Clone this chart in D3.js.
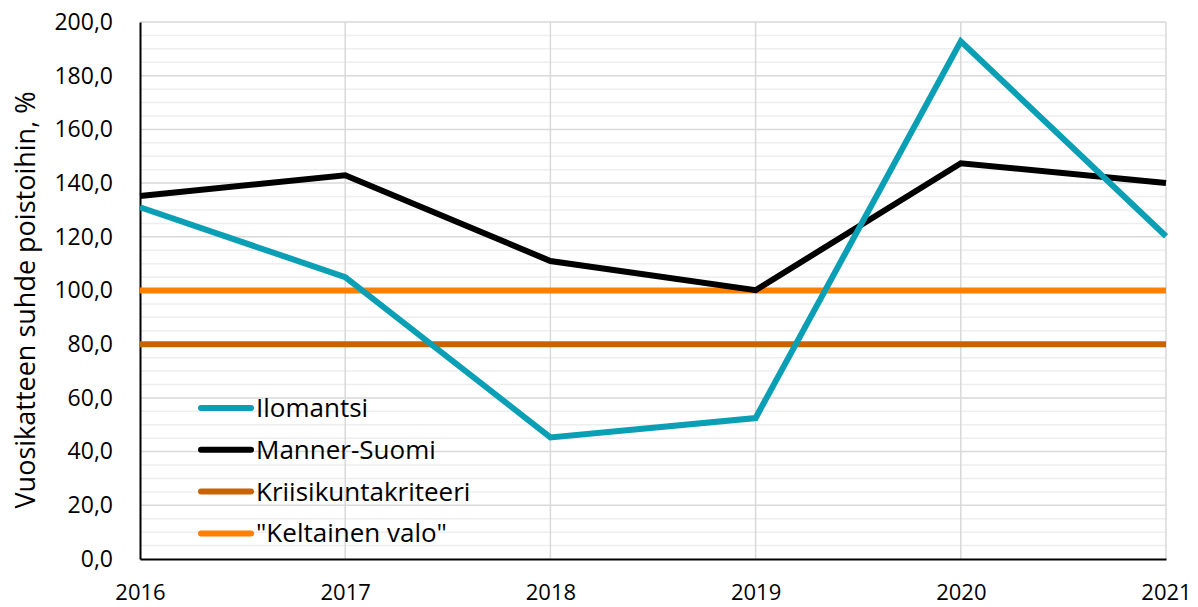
<!DOCTYPE html>
<html><head><meta charset="utf-8">
<script src="https://cdn.jsdelivr.net/npm/d3@7"></script>
<style>body{margin:0;background:#fff;}svg{display:block;font-family:"Open Sans",sans-serif;}</style>
</head><body><svg id="c" width="1198" height="607"></svg>
<script>
const years = [2016, 2017, 2018, 2019, 2020, 2021];
const ilomantsi = [131.0, 105.0, 45.3, 52.5, 192.8, 120.2];
const mannerSuomi = [135.2, 142.9, 111.0, 100.1, 147.4, 140.0];
const kriisikunta = [80, 80, 80, 80, 80, 80];
const keltainen = [100, 100, 100, 100, 100, 100];
const yTicks = [0, 20, 40, 60, 80, 100, 120, 140, 160, 180, 200];
const seriesNames = ["Ilomantsi", "Manner-Suomi", "Kriisikuntakriteeri", "\"Keltainen valo\""];
const seriesColors = ["#0A9FB5", "#000000", "#C86400", "#FF8000"];

const svg = d3.select("#c");
const L = 140, R = 1166, T = 22, B = 559;
const x = d3.scaleLinear().domain([2016, 2021]).range([L, R]);
const y = d3.scaleLinear().domain([0, 200]).range([B, T]);

// minor gridlines
const minor = d3.range(5, 200, 5).filter(v => v % 20 !== 0);
svg.append("g").selectAll("line").data(minor).join("line")
  .attr("x1", L).attr("x2", R).attr("y1", d => y(d)).attr("y2", d => y(d))
  .attr("stroke", "#eeeeee").attr("stroke-width", 1.5);
// major gridlines
svg.append("g").selectAll("line").data(yTicks.filter(v => v > 0)).join("line")
  .attr("x1", L).attr("x2", R).attr("y1", d => y(d)).attr("y2", d => y(d))
  .attr("stroke", "#d9d9d9").attr("stroke-width", 1.5);
// vertical gridlines
svg.append("g").selectAll("line").data(years.slice(1)).join("line")
  .attr("x1", d => x(d)).attr("x2", d => x(d)).attr("y1", T).attr("y2", B)
  .attr("stroke", "#d9d9d9").attr("stroke-width", 1.5);

// axes
const yAxis = d3.axisLeft(y).tickValues(yTicks).tickSize(0).tickPadding(27)
  .tickFormat(d => d3.format(".1f")(d).replace(".", ","));
const gy = svg.append("g").attr("transform", `translate(${L},0)`).call(yAxis);
gy.select(".domain").attr("stroke", "#000").attr("stroke-width", 2);
gy.selectAll("text").attr("font-size", 23).attr("fill", "#000").attr("font-family", "Open Sans");

const xAxis = d3.axisBottom(x).tickValues(years).tickSize(0).tickPadding(25).tickFormat(d3.format("d"));
const gx = svg.append("g").attr("transform", `translate(0,${B})`).call(xAxis);
gx.select(".domain").attr("stroke", "#000").attr("stroke-width", 2);
gx.selectAll("text").attr("font-size", 22).attr("fill", "#000").attr("font-family", "Open Sans");

// y title
svg.append("text").attr("transform", `translate(35,300) rotate(-90)`)
  .attr("text-anchor", "middle").attr("font-size", 27).attr("fill", "#000")
  .text("Vuosikatteen suhde poistoihin, %");

// lines
const line = d3.line().x((d, i) => x(years[i])).y(d => y(d));
const allSeries = [kriisikunta, keltainen, mannerSuomi, ilomantsi];
const allColors = [seriesColors[2], seriesColors[3], seriesColors[1], seriesColors[0]];
svg.append("g").selectAll("path").data(allSeries).join("path")
  .attr("d", line).attr("fill", "none")
  .attr("stroke", (d, i) => allColors[i]).attr("stroke-width", 6)
  .attr("stroke-linejoin", "miter").attr("stroke-linecap", "butt");

// legend
const lg = svg.append("g").attr("transform", "translate(198,408)");
const items = lg.selectAll("g").data(seriesNames).join("g")
  .attr("transform", (d, i) => `translate(0,${i * 41.8})`);
items.append("line").attr("x1", 3).attr("x2", 53).attr("y1", 0).attr("y2", 0)
  .attr("stroke", (d, i) => seriesColors[i]).attr("stroke-width", 6).attr("stroke-linecap", "round");
items.append("text").attr("x", 58).attr("y", 9).attr("font-size", 26).attr("fill", "#000").text(d => d);
</script></body></html>
